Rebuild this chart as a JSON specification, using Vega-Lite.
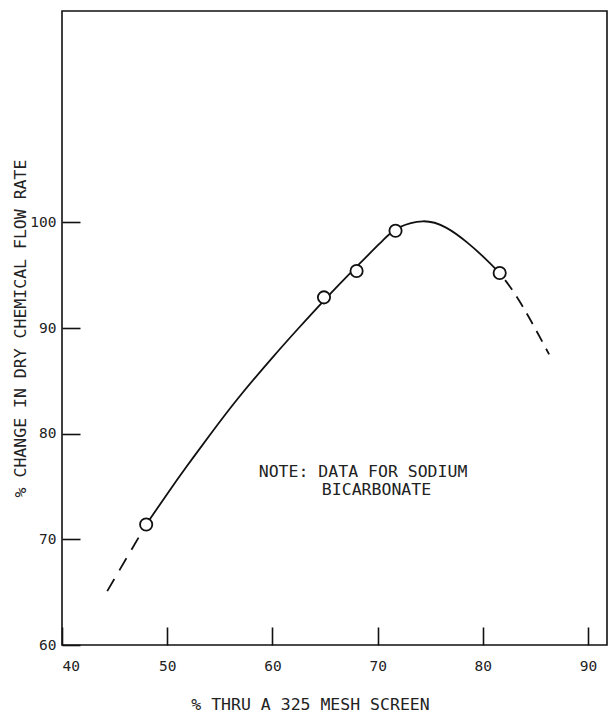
{
  "$schema": "https://vega.github.io/schema/vega-lite/v6.json",
  "width": 545,
  "height": 634,
  "autosize": {"type": "none"},
  "padding": {"left": 62, "top": 11, "right": 3, "bottom": 70},
  "background": "white",
  "config": {
    "view": {"stroke": "#111", "strokeWidth": 1.6},
    "font": "DejaVu Sans Mono",
    "axis": {
      "grid": false,
      "domain": false,
      "tickColor": "#111",
      "tickWidth": 1.6,
      "labelColor": "#222",
      "titleColor": "#222",
      "labelFont": "DejaVu Sans Mono",
      "titleFont": "DejaVu Sans Mono",
      "labelFontSize": 14.5,
      "titleFontSize": 16.5,
      "titleFontWeight": "normal"
    }
  },
  "datasets": {
    "fit": [
      {"x": 48.0, "y": 71.4},
      {"x": 50.0, "y": 74.3},
      {"x": 52.0, "y": 77.1},
      {"x": 54.0, "y": 79.8},
      {"x": 56.7, "y": 83.3},
      {"x": 60.0, "y": 87.2},
      {"x": 62.5, "y": 90.0},
      {"x": 64.9, "y": 92.6},
      {"x": 68.0, "y": 95.8},
      {"x": 70.5, "y": 98.3},
      {"x": 72.0, "y": 99.5},
      {"x": 74.3, "y": 100.1},
      {"x": 76.5, "y": 99.5},
      {"x": 78.5, "y": 98.1},
      {"x": 80.3, "y": 96.5},
      {"x": 81.6, "y": 95.2}
    ],
    "dashLow": [
      {"x": 48.0, "y": 71.4},
      {"x": 44.3, "y": 65.1}
    ],
    "dashHigh": [
      {"x": 81.6, "y": 95.2},
      {"x": 83.0, "y": 93.3},
      {"x": 84.5, "y": 90.8},
      {"x": 86.3, "y": 87.5}
    ],
    "points": [
      {"x": 48.0, "y": 71.4},
      {"x": 64.9, "y": 92.9},
      {"x": 68.0, "y": 95.4},
      {"x": 71.7, "y": 99.2},
      {"x": 81.6, "y": 95.2}
    ],
    "note": [
      {"x": 58.7, "y": 76.4, "text": "NOTE: DATA FOR SODIUM"},
      {"x": 64.7, "y": 74.7, "text": "BICARBONATE"}
    ]
  },
  "layer": [
    {
      "data": {"name": "fit"},
      "mark": {"type": "line", "interpolate": "natural", "color": "#111", "strokeWidth": 1.8},
      "encoding": {
        "x": {
          "field": "x", "type": "quantitative",
          "scale": {"domain": [40, 91.8], "nice": false, "zero": false},
          "axis": {
            "values": [40, 50, 60, 70, 80, 90],
            "tickSize": -18,
            "labelPadding": 32,
            "title": "% THRU A 325 MESH SCREEN",
            "titleX": 248,
            "titleY": 59,
            "titleBaseline": "middle"
          }
        },
        "y": {
          "field": "y", "type": "quantitative",
          "scale": {"domain": [60, 120], "nice": false, "zero": false},
          "axis": {
            "values": [60, 70, 80, 90, 100],
            "tickSize": -18,
            "labelPadding": 24,
            "title": "% CHANGE IN DRY CHEMICAL FLOW RATE",
            "titleX": -42,
            "titleBaseline": "middle"
          }
        }
      }
    },
    {
      "data": {"name": "dashLow"},
      "mark": {"type": "line", "color": "#111", "strokeWidth": 1.8, "strokeDash": [14, 10], "strokeDashOffset": 0},
      "encoding": {
        "x": {"field": "x", "type": "quantitative"},
        "y": {"field": "y", "type": "quantitative"}
      }
    },
    {
      "data": {"name": "dashHigh"},
      "mark": {"type": "line", "interpolate": "natural", "color": "#111", "strokeWidth": 1.8, "strokeDash": [12, 8], "strokeDashOffset": -9},
      "encoding": {
        "x": {"field": "x", "type": "quantitative"},
        "y": {"field": "y", "type": "quantitative"}
      }
    },
    {
      "data": {"name": "points"},
      "mark": {"type": "point", "shape": "circle", "size": 150, "filled": false, "fill": "white", "fillOpacity": 1, "stroke": "#111", "strokeWidth": 1.8, "opacity": 1},
      "encoding": {
        "x": {"field": "x", "type": "quantitative"},
        "y": {"field": "y", "type": "quantitative"}
      }
    },
    {
      "data": {"name": "note"},
      "mark": {"type": "text", "align": "left", "baseline": "middle", "font": "DejaVu Sans Mono", "fontSize": 16.5, "color": "#222"},
      "encoding": {
        "x": {"field": "x", "type": "quantitative"},
        "y": {"field": "y", "type": "quantitative"},
        "text": {"field": "text", "type": "nominal"}
      }
    }
  ]
}
